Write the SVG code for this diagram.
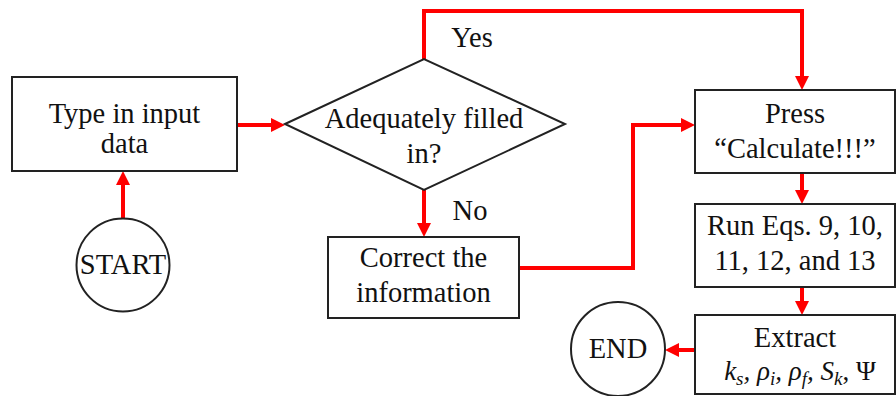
<svg xmlns="http://www.w3.org/2000/svg" width="896" height="396" viewBox="0 0 896 396">
<style>
.box{fill:#fff;stroke:#222;stroke-width:2}
.t{font-family:"Liberation Serif","Times New Roman",serif;font-size:28.5px;fill:#111;text-anchor:middle}
.m{font-family:"Liberation Serif","Times New Roman",serif;font-style:italic;font-size:27px;fill:#111;text-anchor:middle}
.c{fill:none;stroke:#ff0000;stroke-width:4;marker-end:url(#ah)}
</style>
<defs>
<marker id="ah" markerUnits="userSpaceOnUse" markerWidth="14" markerHeight="14" viewBox="0 0 14 14" refX="8" refY="7" orient="auto">
<path d="M0,0 L14,7 L0,14 z" fill="#ff0000"/>
</marker>
</defs>
<rect width="896" height="396" fill="#fff"/>
<g id="connectors">
<path class="c" d="M237,125 H279"/>
<path class="c" d="M123,218 V177"/>
<path class="c" d="M424,59 V11 H802 V84"/>
<path class="c" d="M424,190 V231"/>
<path class="c" d="M519,268 H633 V125 H689"/>
<path class="c" d="M802,173 V198"/>
<path class="c" d="M802,287 V309"/>
<path class="c" d="M695,350 H671"/>
</g>
<g id="type-input">
<rect class="box" x="12" y="77" width="225" height="94"/>
<text class="t" x="124.5" y="123">Type in input</text>
<text class="t" x="124.5" y="153">data</text>
</g>
<g id="start">
<circle class="box" cx="123" cy="265" r="46.5"/>
<text class="t" x="123" y="274">START</text>
</g>
<g id="decision">
<path class="box" d="M285,124 L424,59 L565,124 L424,190 z"/>
<text class="t" x="424" y="128">Adequately filled</text>
<text class="t" x="424" y="163">in?</text>
</g>
<text class="t" x="472" y="47">Yes</text>
<text class="t" x="470" y="220">No</text>
<g id="correct">
<rect class="box" x="328" y="237" width="191" height="81"/>
<text class="t" x="423.5" y="267">Correct the</text>
<text class="t" x="423.5" y="302">information</text>
</g>
<g id="press">
<rect class="box" x="695" y="90" width="200" height="83"/>
<text class="t" x="795" y="123">Press</text>
<text class="t" x="795" y="158">“Calculate!!!”</text>
</g>
<g id="run">
<rect class="box" x="695" y="204" width="200" height="83"/>
<text class="t" x="795" y="235">Run Eqs. 9, 10,</text>
<text class="t" x="795" y="270">11, 12, and 13</text>
</g>
<g id="extract">
<rect class="box" x="695" y="315" width="200" height="79"/>
<text class="t" x="795" y="347">Extract</text>
<text class="m" x="800" y="380">k<tspan font-size="19" dy="5">s</tspan><tspan dy="-5">, ρ</tspan><tspan font-size="19" dy="5">i</tspan><tspan dy="-5">, ρ</tspan><tspan font-size="19" dy="5">f</tspan><tspan dy="-5">, S</tspan><tspan font-size="19" dy="5">k</tspan><tspan dy="-5" font-style="normal">, Ψ</tspan></text>
</g>
<g id="end">
<circle class="box" cx="618" cy="349" r="47"/>
<text class="t" x="618" y="358">END</text>
</g>
</svg>
